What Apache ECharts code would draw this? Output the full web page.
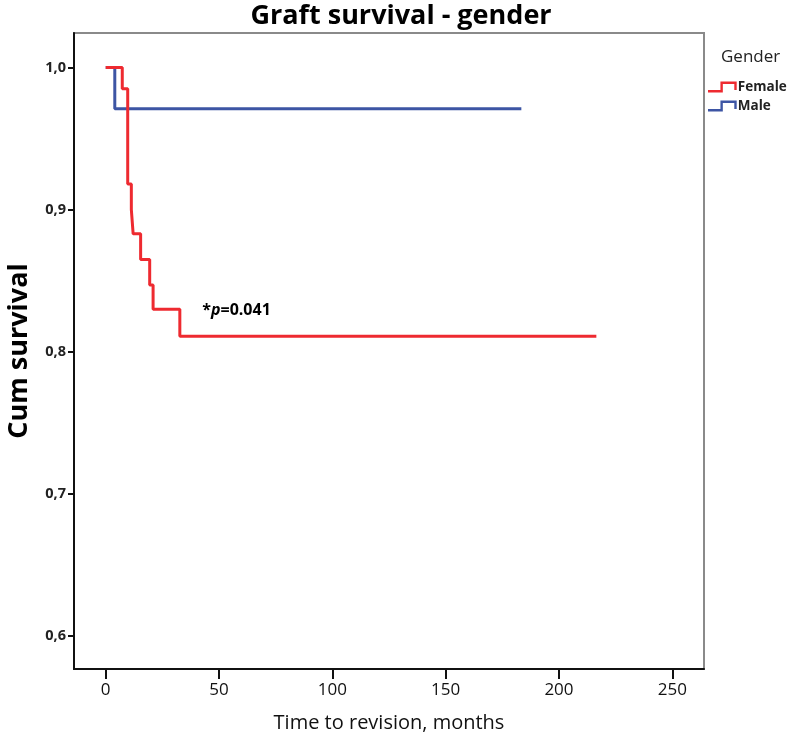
<!DOCTYPE html>
<html>
<head>
<meta charset="utf-8">
<script src="https://cdn.jsdelivr.net/npm/echarts@6/dist/echarts.min.js"></script>
<style>html,body{margin:0;padding:0;background:#fff}#c{width:800px;height:739px}</style>
</head>
<body>
<div id="c"></div>
<script>
// Kaplan-Meier steps
var femaleTimes = [0, 7.3, 9.7, 11.3, 12.1, 15.4, 19.4, 20.9, 32.7, 216.5];
var femaleSurv  = [1.0, 0.985, 0.918, 0.900, 0.883, 0.865, 0.847, 0.830, 0.811, 0.811];
var maleTimes = [0, 4.0, 183.4];
var maleSurv  = [1.0, 0.971, 0.971];
var xTicks = [0, 50, 100, 150, 200, 250];
var yTicks = [0.6, 0.7, 0.8, 0.9, 1.0];
var seriesNames = ['Female', 'Male'];

function pairs(t, s) { return t.map(function (v, i) { return [v, s[i]]; }); }

var stepIcon = 'path://M0,9 L13,9 L13,0 L30,0 L30,9 L27.5,9 L27.5,2.5 L15.5,2.5 L15.5,11.5 L0,11.5 Z';

var chart = echarts.init(document.getElementById('c'), null, { renderer: 'canvas' });
var option = {
  animation: false,
  backgroundColor: '#ffffff',
  title: [
    { text: 'Graft survival - gender', left: 396, top: -2, textAlign: 'center',
      textStyle: { fontFamily: 'Open Sans', fontWeight: 'bold', fontSize: 27, color: '#000' } },
    { text: 'Gender', left: 716, top: 44,
      textStyle: { fontFamily: 'Open Sans', fontWeight: 'normal', fontSize: 17, color: '#222' } }
  ],
  grid: { left: 74, right: 96, top: 33, bottom: 70, show: true, borderColor: '#8a8a8a', borderWidth: 2,
    backgroundColor: 'transparent', containLabel: false, outerBoundsMode: 'none' },
  legend: {
    left: 703, top: 75, orient: 'vertical', itemGap: 5, itemWidth: 33, itemHeight: 11,
    data: seriesNames.map(function (n) { return { name: n, icon: stepIcon }; }),
    textStyle: { fontFamily: 'Open Sans', fontWeight: 'bold', fontSize: 13.5, color: '#222', padding: [0, 0, 0, -6] }
  },
  xAxis: {
    type: 'value', min: -14, max: 264,
    name: 'Time to revision, months', nameLocation: 'middle', nameGap: 44,
    nameTextStyle: { fontFamily: 'Open Sans', fontSize: 20, color: '#111' },
    axisLine: { show: true, onZero: false, lineStyle: { color: '#111', width: 2 } },
    axisTick: { show: true, length: 10, lineStyle: { color: '#111', width: 2 },
      customValues: xTicks },
    axisLabel: { fontFamily: 'Open Sans', fontSize: 17, color: '#111', margin: 13,
      customValues: xTicks },
    splitLine: { show: false }
  },
  yAxis: {
    type: 'value', min: 0.5768, max: 1.0243,
    name: 'Cum survival', nameLocation: 'middle', nameGap: 41,
    nameTextStyle: { fontFamily: 'Open Sans', fontWeight: 'bold', fontSize: 27, color: '#000' },
    axisLine: { show: true, onZero: false, lineStyle: { color: '#111', width: 2 } },
    axisTick: { show: true, length: 6, lineStyle: { color: '#111', width: 2 },
      customValues: yTicks },
    axisLabel: { fontFamily: 'Open Sans', fontWeight: 'bold', fontSize: 14.5, color: '#222', margin: 8,
      customValues: yTicks,
      formatter: function (v) { return v.toFixed(1).replace('.', ','); } },
    splitLine: { show: false }
  },
  series: [
    { name: seriesNames[0], type: 'line', step: 'end', symbol: 'none', z: 3,
      data: pairs(femaleTimes, femaleSurv),
      itemStyle: { color: '#ee2a30' }, lineStyle: { color: '#ee2a30', width: 3 } },
    { name: seriesNames[1], type: 'line', step: 'end', symbol: 'none', z: 2,
      data: pairs(maleTimes, maleSurv),
      itemStyle: { color: '#3d55a4' }, lineStyle: { color: '#3d55a4', width: 3 } }
  ]
};
chart.setOption(option);

var pPos = chart.convertToPixel({ gridIndex: 0 }, [42.6, 0.8293]);
chart.setOption({
  graphic: [{
    type: 'text', x: pPos[0], y: pPos[1],
    style: {
      text: '*{i|p}{b|=0.041}',
      rich: {
        i: { fontFamily: 'Open Sans', fontStyle: 'italic', fontWeight: 'bold', fontSize: 16, fill: '#000' },
        b: { fontFamily: 'Open Sans', fontWeight: 'bold', fontSize: 16, fill: '#000' }
      },
      fontFamily: 'Open Sans', fontWeight: 'bold', fontSize: 16, fill: '#000',
      verticalAlign: 'middle'
    }
  }]
});
</script>
</body>
</html>
